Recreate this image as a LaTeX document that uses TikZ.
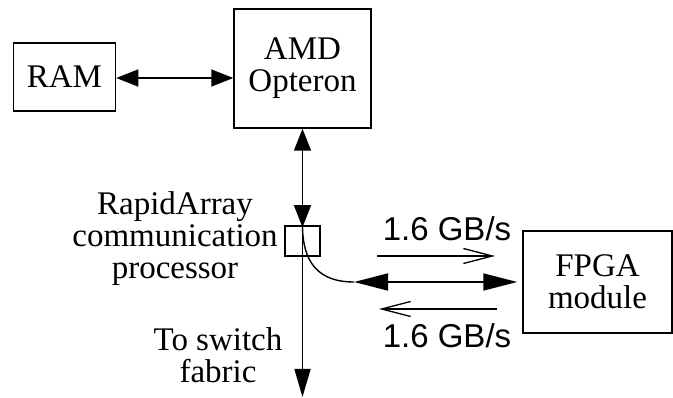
\documentclass[tikz,border=0pt]{standalone}
\usepackage{fontspec}
\setmainfont{Liberation Serif}
\newfontfamily\ratefont{Liberation Sans}
\usetikzlibrary{positioning,arrows.meta,calc}

\tikzset{
    unit/.style={draw,line width=1.5pt,inner sep=0pt,align=center},
    bigtip/.style={line width=1.6pt,{Triangle[length=22pt,width=17pt]}-{Triangle[length=22pt,width=17pt]}},
    longtip/.style={line width=1.6pt,{Triangle[length=34pt,width=17pt]}-{Triangle[length=34pt,width=17pt]}},
    downtip/.style={line width=1.6pt,-{Triangle[length=28pt,width=16pt]}},
    ratearrow/.style={line width=1.3pt,-{Straight Barb[length=29pt,width=15pt]}},
    lbl/.style={align=center,font=\fontsize{33}{32}\selectfont},
    ratelbl/.style={font=\fontsize{33}{32}\selectfont\ratefont}
}

\begin{document}
\begin{tikzpicture}[x=1pt,y=-1pt]
    \useasboundingbox (0,0) rectangle (673,398);

    % Processor, memory and FPGA boxes
    \node[unit,lbl,minimum width=102pt,minimum height=68pt] (ram) at (64.5,77) {RAM};
    \node[unit,lbl,minimum width=137pt,minimum height=119pt] (amd) at (302.5,68.5) {AMD\\Opteron};
    \node[unit,minimum width=35pt,minimum height=30pt] (rac) at (302.5,241) {};
    \node[unit,lbl,minimum width=149pt,minimum height=102pt] (fpga) at (597.5,282) {FPGA\\module};

    % Labels
    \node[lbl] (raclbl) at (175,239) {RapidArray\\communication\\processor};
    \node[lbl] (swlbl) at (218,355) {To switch\\fabric};
    \node[ratelbl] (rateup) at (447,229) {1.6 GB/s};
    \node[ratelbl] (ratedown) at (447,336) {1.6 GB/s};

    % Free ends
    \coordinate (sw) at (302.5,397);
    \coordinate (jn) at (354,282);
    \coordinate (upa) at (377,256);
    \coordinate (upb) at (495,256);
    \coordinate (dna) at (497,309);
    \coordinate (dnb) at (379,309);

    % Links
    \draw[bigtip] (ram.east |- 0,78) -- (amd.west |- 0,78);
    \draw[bigtip,shorten >=-2pt] (amd.south) -- (rac.north);
    \draw[downtip] (rac.north) -- (sw);
    \draw[line width=1.4pt] (rac.north) .. controls (302.5,262) and (318,282) .. (jn);
    \draw[longtip,shorten >=5pt] (jn) -- (jn -| fpga.west);
    \draw[ratearrow] (upa) -- (upb);
    \draw[ratearrow] (dna) -- (dnb);
\end{tikzpicture}
\end{document}
